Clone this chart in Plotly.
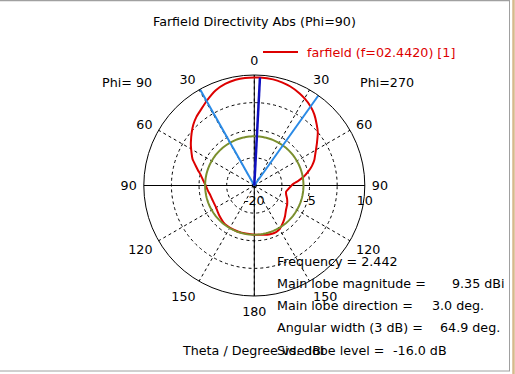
import plotly.graph_objects as go

# ---------------- data ----------------
# Phi=270 half (drawn on the right), theta in degrees from 0 (top) to 180
theta_phi270 = [0, 3, 10, 15, 20, 26, 30, 35.45, 40, 46, 50, 56, 62, 67, 71, 75, 80, 84, 87, 90,
                95, 101, 106, 112, 120, 128, 135, 142, 150, 155, 162, 170, 180]
dbi_phi270 = [9.33, 9.35, 9.25, 9.0, 8.6, 7.9, 7.3, 6.35, 5.3, 3.6, 2.5, 0.5, -1.2, -2.3, -3.4, -4.7, -6.4, -8.0, -9.2, -9.9,
              -10.6, -11.2, -11.0, -10.4, -9.7, -9.1, -8.2, -7.3, -6.3, -6.0, -6.1, -6.4, -6.65]
# Phi=90 half (drawn on the left)
theta_phi90 = [0, 5, 10, 16, 22, 29.45, 35, 40, 45, 50, 55, 58, 63, 67, 71, 75, 79, 84, 90,
               96, 103, 110, 118, 125, 132, 140, 146, 155, 165, 180]
dbi_phi90 = [9.33, 9.3, 9.15, 8.7, 7.9, 6.35, 5.2, 4.4, 3.4, 2.2, 1.0, 0.3, -0.9, -1.8, -3.1, -4.2, -5.2, -6.0, -6.8,
             -7.3, -7.8, -8.0, -8.05, -7.8, -7.4, -6.95, -6.8, -6.75, -6.7, -6.65]

main_lobe_dir = 3.0
main_lobe_mag = 9.35
angular_width = 64.9
side_lobe_level = -16.0
frequency = 2.442
legend_name = "farfield (f=02.4420) [1]"

r_range = [-20, 10]
ring_vals = [-20, -12.5, -5, 2.5, 10]
ring_text = ["-20", "", "-5", "", "10"]
ang_vals = [0, 30, 60, 90, 120, 150, 180, 210, 240, 270, 300, 330]
ang_text = ["0", "30", "60", "90", "120", "150", "180", "150", "120", "90", "60", "30"]

stat_labels = ["Frequency = " + str(frequency), "Main lobe magnitude =", "Main lobe direction =",
               "Angular width (3 dB) =", "Side lobe level ="]
stat_values = ["", "%.2f dBi" % main_lobe_mag, "%.1f deg." % main_lobe_dir,
               "%.1f deg." % angular_width, "%.1f dB" % side_lobe_level]

# ---------------- style ----------------
W, H = 515, 374
FONT = "DejaVu Sans"
FS = 12.7
RED = "#dd0000"
cx, cy, R = 254.3, 185.5, 110.5

def px(x):
    return x / W

def py(y):
    return 1 - y / H

fig = go.Figure()

# full axis cross lines
fig.add_trace(go.Scatterpolar(r=[r_range[1], r_range[0], r_range[1]], theta=[90, 0, 270],
                              mode="lines", line=dict(color="black", width=1),
                              showlegend=False, hoverinfo="skip"))
fig.add_trace(go.Scatterpolar(r=[r_range[1], r_range[0], r_range[1]], theta=[0, 0, 180],
                              mode="lines", line=dict(color="black", width=1),
                              showlegend=False, hoverinfo="skip"))

# red farfield curve
theta_all = list(theta_phi270) + [360 - t for t in reversed(theta_phi90)]
r_all = list(dbi_phi270) + list(reversed(dbi_phi90))
fig.add_trace(go.Scatterpolar(r=r_all, theta=theta_all, mode="lines",
                              line=dict(color=RED, width=2, shape="spline", smoothing=0.4),
                              name=legend_name, showlegend=False, hoverinfo="skip"))

# side lobe level circle
circ_theta = list(range(0, 361, 2))
fig.add_trace(go.Scatterpolar(r=[main_lobe_mag + side_lobe_level] * len(circ_theta), theta=circ_theta,
                              mode="lines", line=dict(color="#7b8f2e", width=2),
                              showlegend=False, hoverinfo="skip"))

# beam width lines
for a in (main_lobe_dir - angular_width / 2, main_lobe_dir + angular_width / 2):
    fig.add_trace(go.Scatterpolar(r=[r_range[0], r_range[1]], theta=[a, a], mode="lines",
                                  line=dict(color="#2a8ae6", width=2),
                                  showlegend=False, hoverinfo="skip"))
# main lobe direction
fig.add_trace(go.Scatterpolar(r=[r_range[0], main_lobe_mag], theta=[main_lobe_dir, main_lobe_dir],
                              mode="lines", line=dict(color="#1010c0", width=2.5),
                              showlegend=False, hoverinfo="skip"))

fig.update_layout(
    width=W, height=H,
    margin=dict(l=0, r=0, t=0, b=0),
    paper_bgcolor="white",
    showlegend=False,
    font=dict(family=FONT, size=FS, color="black"),
    polar=dict(
        domain=dict(x=[px(cx - R), px(cx + R)], y=[1 - (cy + R) / H, 1 - (cy - R) / H]),
        bgcolor="white",
        angularaxis=dict(rotation=90, direction="clockwise", tickmode="array",
                         tickvals=ang_vals, ticktext=ang_text, ticks="outside", ticklen=4,
                         tickcolor="rgba(0,0,0,0)",
                         showline=True, linecolor="black", linewidth=1,
                         showgrid=True, gridcolor="black", gridwidth=1, griddash="3px,3px",
                         tickfont=dict(family=FONT, size=FS, color="black")),
        radialaxis=dict(range=r_range, angle=0, side="clockwise", tickmode="array",
                        tickvals=ring_vals, ticktext=ring_text, ticks="outside", ticklen=4,
                        tickcolor="rgba(0,0,0,0)", showline=False,
                        showgrid=True, gridcolor="black", gridwidth=1, griddash="3px,3px",
                        tickfont=dict(family=FONT, size=FS, color="black")),
    ),
)

ann = []
ann.append(dict(text="Farfield Directivity Abs (Phi=90)", x=px(254), y=py(21), xanchor="center"))
ann.append(dict(text="Phi= 90", x=px(100), y=py(82), xanchor="left"))
ann.append(dict(text="Phi=270", x=px(358), y=py(82), xanchor="left"))
ann.append(dict(text="Theta / Degree vs. dBi", x=px(180), y=py(350), xanchor="left"))
label_y = [261, 283, 305.5, 327.5, 350]
value_x = [None, 450, 430, 438, 391]
for i, lab in enumerate(stat_labels):
    ann.append(dict(text=lab, x=px(275), y=py(label_y[i]), xanchor="left"))
    if stat_values[i]:
        ann.append(dict(text=stat_values[i], x=px(value_x[i]), y=py(label_y[i]), xanchor="left"))
for a in ann:
    a.update(xref="paper", yref="paper", yanchor="middle", showarrow=False,
             font=dict(family=FONT, size=FS, color="black"))
# legend entry (drawn by hand to match the original placement)
ann.append(dict(text=legend_name, x=px(305), y=py(52), xref="paper", yref="paper",
                xanchor="left", yanchor="middle", showarrow=False,
                font=dict(family=FONT, size=FS, color=RED)))
fig.update_layout(annotations=ann)

fig.update_layout(shapes=[
    # legend line sample
    dict(type="line", xref="paper", yref="paper", x0=px(263), x1=px(298), y0=py(52), y1=py(52),
         line=dict(color=RED, width=2)),
    # window frame
    dict(type="line", xref="paper", yref="paper", x0=0, x1=px(510), y0=py(0.5), y1=py(0.5),
         line=dict(color="#a0a0a0", width=1.5)),
    dict(type="line", xref="paper", yref="paper", x0=px(509.5), x1=px(509.5), y0=py(0), y1=py(371),
         line=dict(color="#a0a0a0", width=1)),
    dict(type="line", xref="paper", yref="paper", x0=px(513.5), x1=px(513.5), y0=py(0), y1=py(374),
         line=dict(color="#d6b98c", width=2.5)),
    dict(type="line", xref="paper", yref="paper", x0=0, x1=px(510), y0=py(371), y1=py(371),
         line=dict(color="#a0a0a0", width=1)),
])

fig.write_html("out.html", config={"displayModeBar": False},
               post_script="document.body.style.margin='0';document.body.style.overflow='hidden';")
